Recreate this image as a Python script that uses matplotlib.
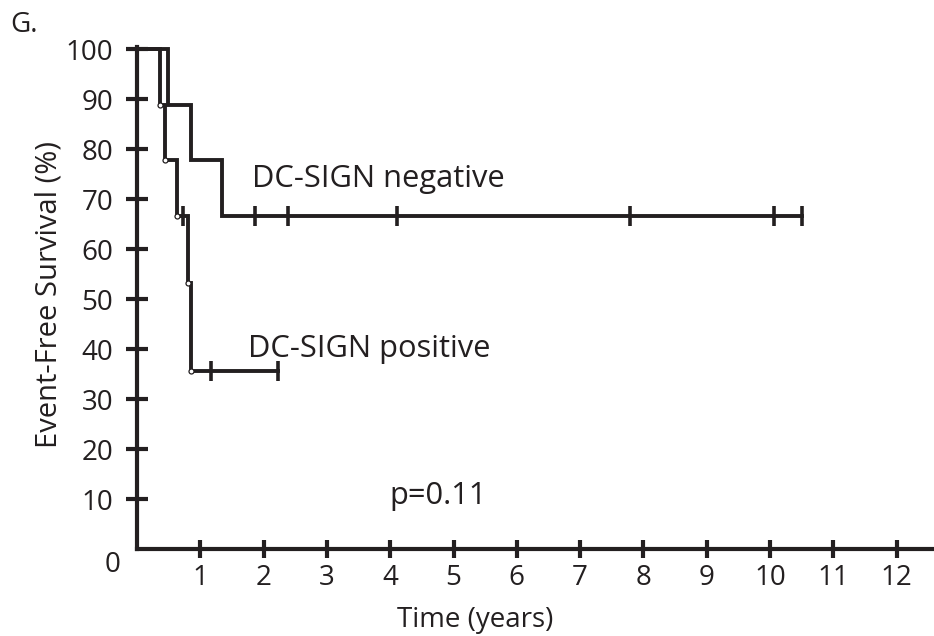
import matplotlib
matplotlib.use("Agg")
import matplotlib.pyplot as plt

plt.rcParams['font.family'] = ['Open Sans', 'DejaVu Sans']

INK = '#231f20'

# Kaplan-Meier estimates (time in years, event-free survival in %)
neg_times = [0.0, 0.49, 0.85, 1.34]
neg_surv = [100.0, 88.9, 77.8, 66.7]
neg_last = 10.5
neg_censor = [1.86, 2.39, 4.11, 7.79, 10.07, 10.5]

pos_times = [0.0, 0.36, 0.45, 0.63, 0.81, 0.85]
pos_surv = [100.0, 88.9, 77.8, 66.7, 53.3, 35.6]
pos_last = 2.23
pos_censor = [0.73, 1.17, 2.23]

x_ticks = list(range(1, 13))
y_ticks = list(range(10, 101, 10))


def surv_at(times, surv, t):
    s = surv[0]
    for ti, si in zip(times, surv):
        if ti <= t:
            s = si
    return s


fig = plt.figure(figsize=(9.34, 6.36), dpi=100)
ax = fig.add_axes([137 / 934, 87 / 636, 797 / 934, 502 / 636])

for times, surv, last, cens, circles in (
        (neg_times, neg_surv, neg_last, neg_censor, False),
        (pos_times, pos_surv, pos_last, pos_censor, True)):
    xs = times + [last]
    ys = surv + [surv[-1]]
    ax.step(xs, ys, where='post', color=INK, lw=2.8, solid_joinstyle='miter',
            clip_on=False, zorder=3)
    ax.plot(cens, [surv_at(times, surv, c) for c in cens], ls='none',
            marker='|', ms=14, mew=2.6, color=INK, zorder=4, clip_on=False)
    if circles:
        ax.plot(times[1:], surv[1:], ls='none', marker='o', ms=3.6, mew=0.9,
                mfc='white', mec=INK, zorder=5)

ax.set_xlim(0, 12.59)
ax.set_ylim(0, 100.4)

for side in ('top', 'right'):
    ax.spines[side].set_visible(False)
for side in ('left', 'bottom'):
    ax.spines[side].set_linewidth(3.0)
    ax.spines[side].set_color(INK)

ax.set_xticks(x_ticks)
ax.set_yticks(y_ticks)
ax.tick_params(axis='both', direction='inout', color=INK, labelcolor=INK,
               labelsize=20)
ax.tick_params(axis='x', length=13, width=3.0, pad=4)
ax.tick_params(axis='y', length=16, width=3.0, pad=9)

ax.text(-0.39, -3.2, '0', ha='center', va='center', fontsize=20,
        color=INK, clip_on=False)

ax.text(1.82, 72.4, 'DC-SIGN negative', fontsize=22.2, color=INK,
        ha='left', va='baseline')
ax.text(1.76, 38.4, 'DC-SIGN positive', fontsize=22.2, color=INK,
        ha='left', va='baseline')
ax.text(3.98, 9.0, 'p=0.11', fontsize=22.2, color=INK,
        ha='left', va='baseline')

fig.text(49 / 934, 1 - 295 / 636, 'Event-Free Survival (%)', rotation=90,
         ha='center', va='center', fontsize=21, color=INK)
fig.text(475 / 934, 1 - 620 / 636, 'Time (years)', ha='center', va='center',
         fontsize=20, color=INK)
fig.text(10 / 934, 1 - 25 / 636, 'G.', ha='left', va='center',
         fontsize=20, color=INK)

fig.savefig('out.png', dpi=100, facecolor='white')
